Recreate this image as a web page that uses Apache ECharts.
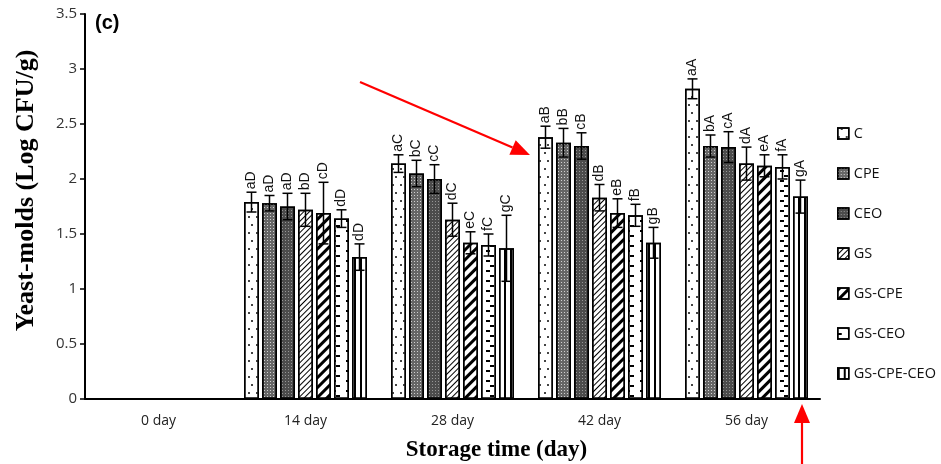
<!DOCTYPE html>
<html><head><meta charset="utf-8">
<script src="https://cdn.jsdelivr.net/npm/echarts@6/dist/echarts.min.js"></script>
<style>html,body{margin:0;padding:0;background:#fff}#c{width:941px;height:464px}</style>
</head><body><div id="c"></div>
<script>
// ---------- DATA ----------
const categories = ['0 day', '14 day', '28 day', '42 day', '56 day'];
const seriesNames = ['C', 'CPE', 'CEO', 'GS', 'GS-CPE', 'GS-CEO', 'GS-CPE-CEO'];
const yTicks = { min: 0, max: 3.5, interval: 0.5 };

const valC        = [null, 1.79, 2.14, 2.38, 2.82];
const valCPE      = [null, 1.78, 2.05, 2.33, 2.30];
const valCEO      = [null, 1.75, 2.00, 2.30, 2.29];
const valGS       = [null, 1.72, 1.63, 1.83, 2.14];
const valGSCPE    = [null, 1.69, 1.42, 1.69, 2.12];
const valGSCEO    = [null, 1.64, 1.40, 1.67, 2.11];
const valGSCPECEO = [null, 1.29, 1.37, 1.42, 1.84];

const errC        = [null, 0.09, 0.08, 0.10, 0.09];
const errCPE      = [null, 0.07, 0.12, 0.13, 0.10];
const errCEO      = [null, 0.12, 0.13, 0.12, 0.14];
const errGS       = [null, 0.15, 0.15, 0.12, 0.15];
const errGSCPE    = [null, 0.28, 0.10, 0.13, 0.10];
const errGSCEO    = [null, 0.08, 0.10, 0.10, 0.11];
const errGSCPECEO = [null, 0.12, 0.30, 0.14, 0.15];

const letC        = ['', 'aD', 'aC', 'aB', 'aA'];
const letCPE      = ['', 'aD', 'bC', 'bB', 'bA'];
const letCEO      = ['', 'aD', 'cC', 'cB', 'cA'];
const letGS       = ['', 'bD', 'dC', 'dB', 'dA'];
const letGSCPE    = ['', 'cD', 'eC', 'eB', 'eA'];
const letGSCEO    = ['', 'dD', 'fC', 'fB', 'fA'];
const letGSCPECEO = ['', 'dD', 'gC', 'gB', 'gA'];

const values  = [valC, valCPE, valCEO, valGS, valGSCPE, valGSCEO, valGSCPECEO];
const errors  = [errC, errCPE, errCEO, errGS, errGSCPE, errGSCEO, errGSCPECEO];
const letters = [letC, letCPE, letCEO, letGS, letGSCPE, letGSCEO, letGSCPECEO];

// ---------- STYLE ----------
const BAR_W = 15, BAR_GAP = 3;
const fills = ['#ffffff', '#666666', '#4c4c4c', '#ffffff', '#ffffff', '#ffffff', '#ffffff'];
const decals = [
  { symbol: 'rect', color: '#444', dashArrayX: [[1.5, 6], [0, 3, 1.5, 3]], dashArrayY: [1.5, 6] },
  { symbol: 'rect', color: '#d0d0d0', dashArrayX: [1, 2], dashArrayY: [1, 2] },
  { symbol: 'rect', color: '#959595', dashArrayX: [1, 1.5], dashArrayY: [1, 1.5] },
  { symbol: 'rect', color: '#000', dashArrayX: [1, 0], dashArrayY: [1, 2.5], rotation: -Math.PI / 4 },
  { symbol: 'rect', color: '#000', dashArrayX: [1, 0], dashArrayY: [3, 4], rotation: -Math.PI / 4 },
  { symbol: 'rect', color: '#000', dashArrayX: [[4, 10], [0, 10, 4, 0]], dashArrayY: [1.5, 3] },
  { symbol: 'rect', color: '#000', dashArrayX: [1.5, 3.5], dashArrayY: [1, 0] }
];

const chart = echarts.init(document.getElementById('c'), null, { renderer: 'canvas' });

const series = [];
seriesNames.forEach((name, si) => {
  series.push({
    type: 'bar', name: name, data: values[si],
    barWidth: BAR_W, barGap: '20%',
    itemStyle: { color: fills[si], borderColor: '#000', borderWidth: 1.5, decal: decals[si] },
    z: 2
  });
});
seriesNames.forEach((name, si) => {
  const n = seriesNames.length;
  const total = n * BAR_W + (n - 1) * BAR_GAP;
  const off = -total / 2 + si * (BAR_W + BAR_GAP) + BAR_W / 2;
  series.push({
    type: 'custom', name: 'err_' + name, z: 5, silent: true,
    data: categories.map((c, ci) => [ci, values[si][ci] == null ? 0 : values[si][ci], errors[si][ci] == null ? 0 : errors[si][ci]]),
    encode: { x: 0, y: 1 },
    renderItem: function (params, api) {
      const ci = params.dataIndex;
      if (values[si][ci] == null) return null;
      const v = api.value(1), e = api.value(2);
      const top = api.coord([ci, v + e]);
      const bot = api.coord([ci, v - e]);
      const x = top[0] + off;
      const cap = 5;
      const st = { stroke: '#000', lineWidth: 1.5 };
      return {
        type: 'group', children: [
          { type: 'line', shape: { x1: x, y1: top[1], x2: x, y2: bot[1] }, style: st },
          { type: 'line', shape: { x1: x - cap, y1: top[1], x2: x + cap, y2: top[1] }, style: st },
          { type: 'line', shape: { x1: x - cap, y1: bot[1], x2: x + cap, y2: bot[1] }, style: st },
          { type: 'text', x: x, y: top[1] - 3, rotation: Math.PI / 2,
            style: { text: letters[si][ci], font: '14px "Liberation Sans", Arial', fill: '#111', align: 'left', verticalAlign: 'middle' } }
        ]
      };
    }
  });
});

function arrow(x1, y1, x2, y2) {
  const dx = x2 - x1, dy = y2 - y1, L = Math.sqrt(dx * dx + dy * dy);
  const ux = dx / L, uy = dy / L, hl = 19, hw = 8;
  const bx = x2 - ux * hl, by = y2 - uy * hl;
  return [
    { type: 'line', shape: { x1: x1, y1: y1, x2: bx, y2: by }, style: { stroke: '#ff0000', lineWidth: 2.2 }, z: 20 },
    { type: 'polygon', shape: { points: [[x2, y2], [bx - uy * hw, by + ux * hw], [bx + uy * hw, by - ux * hw]] }, style: { fill: '#ff0000' }, z: 20 }
  ];
}

chart.setOption({
  animation: false,
  backgroundColor: '#fff',
  title: { text: '(c)', left: 90, top: 8, textStyle: { fontSize: 20, fontWeight: 'bold', fontFamily: '"Liberation Sans", Arial', color: '#000' } },
  grid: { left: 85, right: 121, top: 14, bottom: 65, containLabel: false, outerBoundsMode: 'none' },
  legend: {
    data: seriesNames, orient: 'vertical', left: 832, top: 121,
    itemWidth: 11, itemHeight: 11, itemGap: 25, icon: 'rect',
    itemStyle: { borderColor: '#000', borderWidth: 1.5 },
    textStyle: { fontSize: 14.5, lineHeight: 14, fontFamily: '"Open Sans"', color: '#111' }
  },
  xAxis: {
    type: 'category', data: categories,
    axisLine: { lineStyle: { color: '#000', width: 2 } },
    axisTick: { show: false },
    axisLabel: { color: '#222', fontSize: 14, fontFamily: '"Open Sans"', margin: 15 },
    name: 'Storage time (day)', nameLocation: 'middle', nameGap: 40,
    nameTextStyle: { fontFamily: '"Liberation Serif"', fontWeight: 'bold', fontSize: 23, color: '#000', padding: [0, 0, 0, 88] }
  },
  yAxis: {
    type: 'value', min: yTicks.min, max: yTicks.max, interval: yTicks.interval,
    axisLine: { show: true, lineStyle: { color: '#000', width: 2 } },
    axisTick: { show: true, length: 5, lineStyle: { color: '#000', width: 1.5 } },
    splitLine: { show: false },
    axisLabel: { color: '#333', fontSize: 15, fontFamily: '"Open Sans"', margin: 8 },
    name: 'Yeast-molds (Log CFU/g)', nameLocation: 'middle', nameGap: 46,
    nameTextStyle: { fontFamily: '"Liberation Serif"', fontWeight: 'bold', fontSize: 26, color: '#000', padding: [0, 0, 0, 32] }
  },
  graphic: [].concat(arrow(360, 82, 530, 155), arrow(802, 464, 802, 404)),
  series: series
});
</script></body></html>
